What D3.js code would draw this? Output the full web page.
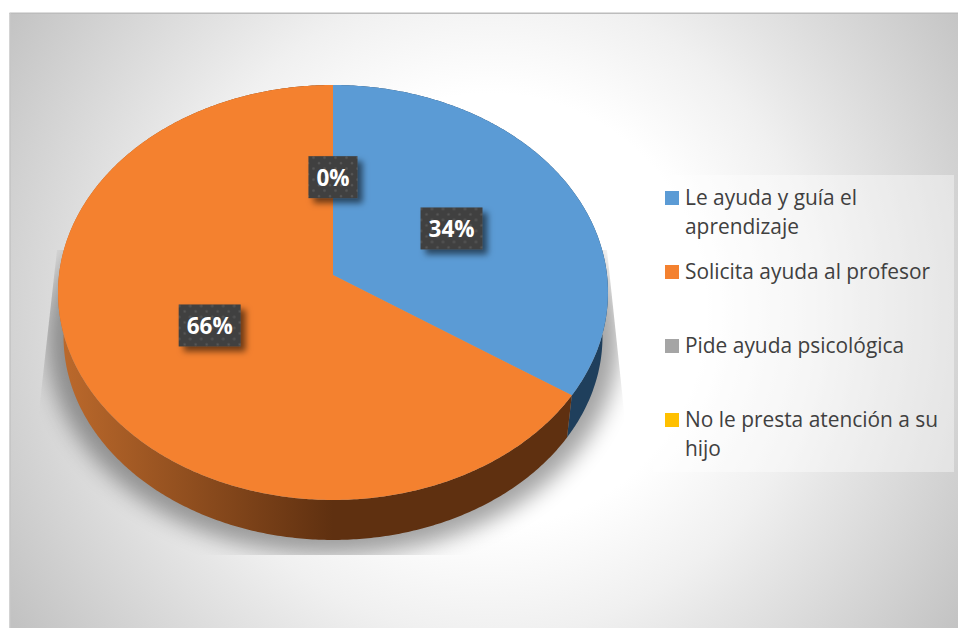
<!DOCTYPE html>
<html>
<head>
<meta charset="utf-8">
<script src="https://cdn.jsdelivr.net/npm/d3@7"></script>
<style>
  body { margin: 0; background: #fff; }
  svg { display: block; }
  .legend text { font-family: "Open Sans", sans-serif; font-size: 20.9px; fill: #404040; }
  .label text { font-family: "Open Sans", sans-serif; font-weight: 700; font-size: 22.5px; fill: #fff; text-anchor: middle; }
</style>
</head>
<body>
<div id="chart"></div>
<script>
const categories = ["Le ayuda y guía el aprendizaje", "Solicita ayuda al profesor", "Pide ayuda psicológica", "No le presta atención a su hijo"];
const values = [34.4, 65.6, 0, 0];
const colors = ["#5b9bd5", "#f4812f", "#a5a5a5", "#ffc000"];
const wallColors = ["#1f3f5c", "url(#orangeWall)", "#5c5c5c", "#7a5c00"];

const width = 958, height = 629;

const svg = d3.select("#chart").append("svg")
    .attr("width", width)
    .attr("height", height);

const defs = svg.append("defs");

// background glow
const bg = defs.append("radialGradient")
    .attr("id", "bg")
    .attr("gradientUnits", "userSpaceOnUse")
    .attr("cx", 490).attr("cy", 310).attr("r", 570);
[[0.38, "#ffffff"], [0.57, "#f0f0f0"], [0.66, "#e6e6e6"], [0.85, "#d2d2d2"], [1, "#c2c2c2"]]
    .forEach(s => bg.append("stop").attr("offset", s[0]).attr("stop-color", s[1]));

const wall = defs.append("linearGradient")
    .attr("id", "orangeWall")
    .attr("gradientUnits", "userSpaceOnUse")
    .attr("x1", 57).attr("x2", 333).attr("y1", 0).attr("y2", 0);
[[0, "#bd6a2c"], [1, "#5f3010"]]
    .forEach(s => wall.append("stop").attr("offset", s[0]).attr("stop-color", s[1]));

defs.append("filter").attr("id", "blur")
    .attr("x", "-20%").attr("y", "-20%").attr("width", "140%").attr("height", "140%")
    .append("feGaussianBlur").attr("stdDeviation", 11);

defs.append("filter").attr("id", "boxShadow")
    .attr("x", "-30%").attr("y", "-30%").attr("width", "170%").attr("height", "170%")
    .append("feDropShadow")
    .attr("dx", 5).attr("dy", 5).attr("stdDeviation", 3)
    .attr("flood-color", "#000").attr("flood-opacity", 0.55);

// dotted texture of the label boxes
const dots = defs.append("pattern")
    .attr("id", "dots")
    .attr("patternUnits", "userSpaceOnUse")
    .attr("width", 11).attr("height", 11);
dots.append("rect").attr("width", 11).attr("height", 11).attr("fill", "#404040");
dots.append("circle").attr("cx", 2.5).attr("cy", 2.5).attr("r", 1.3).attr("fill", "#565656");
dots.append("circle").attr("cx", 8).attr("cy", 8).attr("r", 1.3).attr("fill", "#565656");

defs.append("clipPath").attr("id", "shadowClip")
    .append("polygon")
    .attr("points", "57,250 38,420 38,555 625,555 625,420 607,250");

svg.append("rect")
    .attr("x", 9.5).attr("y", 13)
    .attr("width", width - 9.5).attr("height", 615)
    .attr("fill", "url(#bg)");
svg.append("rect").attr("x", 9.5).attr("y", 12.5).attr("width", width - 9.5).attr("height", 1.5).attr("fill", "#bcbcbc");
svg.append("rect").attr("x", 9.5).attr("y", 13).attr("width", 1.5).attr("height", 615).attr("fill", "#c6c6c6");

// pie in perspective: angles from d3.pie, then a projective map of the unit disc
const pie = d3.pie().value(d => d).sort(null);
const slices = pie(values);

const cx = 333, cy = 275;
const persp = 0.0843, sx = 274, sy = 206;

function project(angle, r, scale, dy) {
    const u = r * Math.sin(angle), v = -r * Math.cos(angle);
    const w = 1 - persp * v;
    return [cx + scale * sx * u / w, cy + dy + scale * sy * v / w];
}

const line = d3.line();
const arcPoints = (a0, a1, r, scale, dy) =>
    d3.range(a0, a1, 0.01).concat([a1]).map(a => project(a, r, scale, dy));

// cast shadow
svg.append("g").attr("clip-path", "url(#shadowClip)")
    .append("path")
    .attr("d", line(arcPoints(0, 2 * Math.PI, 1, 1.04, 46)) + "Z")
    .attr("fill", "#000")
    .attr("opacity", 0.36)
    .attr("filter", "url(#blur)");

const drawn = slices.map((d, i) => ({...d, i})).filter(d => d.value > 0);

// side walls
svg.selectAll(".wall")
    .data(drawn)
    .enter()
    .append("path")
    .attr("class", "wall")
    .attr("fill", d => wallColors[d.i])
    .attr("d", d => line(arcPoints(d.startAngle, d.endAngle, 1, 1, 0)
        .concat(arcPoints(d.startAngle, d.endAngle, 1, 0.98, 44.5).reverse())) + "Z");

// top face
svg.selectAll(".slice")
    .data(drawn)
    .enter()
    .append("path")
    .attr("class", "slice")
    .attr("fill", d => colors[d.i])
    .attr("d", d => line([project(0, 0, 1, 0)].concat(arcPoints(d.startAngle, d.endAngle, 1, 1, 0))) + "Z");

// data labels, the two empty slices share one spot
const fmt = d => Math.round(d.value) + "%";
const labelData = slices.filter((d, i) => d.value > 0 || i === values.indexOf(0));

const labels = svg.selectAll(".label")
    .data(labelData)
    .enter()
    .append("g")
    .attr("class", "label")
    .attr("transform", d => {
        const p = project((d.startAngle + d.endAngle) / 2, 0.5, 1, 1);
        return "translate(" + p[0] + "," + p[1] + ")";
    });

labels.append("text")
    .attr("y", 9)
    .text(fmt);

labels.insert("rect", "text")
    .each(function() {
        const w = this.parentNode.querySelector("text").getComputedTextLength() + 16;
        d3.select(this)
            .attr("x", -w / 2).attr("y", -21)
            .attr("width", w).attr("height", 42);
    })
    .attr("fill", "url(#dots)")
    .attr("filter", "url(#boxShadow)");

// legend
svg.append("rect")
    .attr("x", 653).attr("y", 175)
    .attr("width", 301).attr("height", 297)
    .attr("fill", "#fff").attr("opacity", 0.4);

const legendY = d3.scalePoint().domain(d3.range(categories.length)).range([198, 420]);

const legend = svg.selectAll(".legend")
    .data(categories)
    .enter()
    .append("g")
    .attr("class", "legend")
    .attr("transform", (d, i) => "translate(665," + legendY(i) + ")");

legend.append("rect")
    .attr("y", -7)
    .attr("width", 14).attr("height", 14)
    .attr("fill", (d, i) => colors[i]);

// wrap long entries to the legend width
legend.append("text")
    .attr("x", 20)
    .attr("y", 7)
    .each(function(d) {
        const text = d3.select(this);
        let tspan = text.append("tspan").attr("x", 20);
        let current = [];
        d.split(" ").forEach(word => {
            current.push(word);
            tspan.text(current.join(" "));
            if (this.getComputedTextLength() > 275) {
                current.pop();
                tspan.text(current.join(" "));
                current = [word];
                tspan = text.append("tspan").attr("x", 20).attr("dy", 29).text(word);
            }
        });
    });
</script>
</body>
</html>
